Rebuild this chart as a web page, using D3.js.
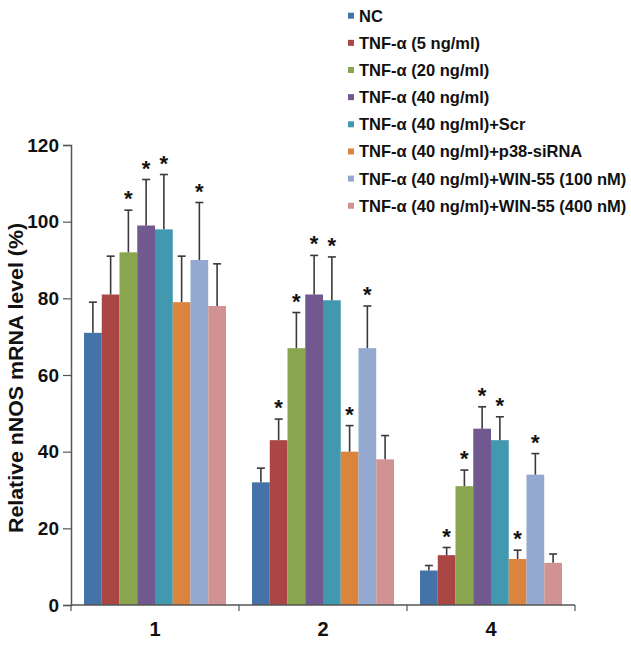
<!DOCTYPE html>
<html>
<head>
<meta charset="utf-8">
<script src="https://cdn.jsdelivr.net/npm/d3@7"></script>
<style>
  body { margin: 0; background: #fff; }
  text { font-family: "Liberation Sans", Arial, sans-serif; font-weight: bold; }
</style>
</head>
<body>
<div id="chart"></div>
<script>
// categories (time points) and treatment series
var timePoints = ['1', '2', '4'];
var seriesNames = [
  'NC',
  'TNF-α (5 ng/ml)',
  'TNF-α (20 ng/ml)',
  'TNF-α (40 ng/ml)',
  'TNF-α (40 ng/ml)+Scr',
  'TNF-α (40 ng/ml)+p38-siRNA',
  'TNF-α (40 ng/ml)+WIN-55 (100 nM)',
  'TNF-α (40 ng/ml)+WIN-55 (400 nM)'
];
var seriesColors = ['#4572A7', '#AA4643', '#89A54E', '#71588F', '#4198AF', '#DB843D', '#93A9CF', '#D19392'];

// mean values, one array per time point (in series order)
var means1 = [71, 81, 92, 99, 98, 79, 90, 78];
var means2 = [32, 43, 67, 81, 79.5, 40, 67, 38];
var means4 = [9, 13, 31, 46, 43, 12, 34, 11];
// upper end of error bar
var upper1 = [79, 91, 103, 111, 112.3, 91, 105, 89];
var upper2 = [35.7, 48.5, 76.3, 91.2, 90.8, 46.8, 78, 44.2];
var upper4 = [10.3, 15, 35.2, 51.7, 49.1, 14.3, 39.5, 13.3];
// significance stars (1 = star)
var star1 = [0, 0, 1, 1, 1, 0, 1, 0];
var star2 = [0, 1, 1, 1, 1, 1, 1, 0];
var star4 = [0, 1, 1, 1, 1, 1, 1, 0];

var yTicks = [0, 20, 40, 60, 80, 100, 120];

var means = [means1, means2, means4]
  , uppers = [upper1, upper2, upper4]
  , stars = [star1, star2, star4];

var w = 631, h = 645;

var svg = d3.select('#chart').append('svg')
  .attr('width', w)
  .attr('height', h);

var x0 = d3.scaleBand()
  .domain(timePoints)
  .range([71, 575])
  .paddingInner(0.155)
  .paddingOuter(0.0775);

var x1 = d3.scaleBand()
  .domain(d3.range(seriesNames.length))
  .range([0, x0.bandwidth()]);

var y = d3.scaleLinear()
  .domain([0, 120])
  .range([605, 145]);

// build flat data
var data = [];
timePoints.forEach(function (t, gi) {
  seriesNames.forEach(function (s, si) {
    data.push({ t: t, s: si, v: means[gi][si], up: uppers[gi][si], star: stars[gi][si] });
  });
});

// bars
svg.append('g').selectAll('rect')
  .data(data)
  .enter().append('rect')
    .attr('x', function (d) { return x0(d.t) + x1(d.s); })
    .attr('y', function (d) { return y(d.v); })
    .attr('width', x1.bandwidth())
    .attr('height', function (d) { return y(0) - y(d.v); })
    .style('fill', function (d) { return seriesColors[d.s]; });

// error bars
var err = svg.append('g')
  .attr('stroke', '#3a3a3a')
  .attr('stroke-width', 1.6);
var capW = 4;
data.forEach(function (d) {
  var cx = x0(d.t) + x1(d.s) + x1.bandwidth() / 2;
  err.append('line')
    .attr('x1', cx).attr('x2', cx)
    .attr('y1', y(d.v)).attr('y2', y(d.up));
  err.append('line')
    .attr('x1', cx - capW).attr('x2', cx + capW)
    .attr('y1', y(d.up)).attr('y2', y(d.up));
});

// stars
svg.append('g').selectAll('text')
  .data(data.filter(function (d) { return d.star; }))
  .enter().append('text')
    .attr('x', function (d) { return x0(d.t) + x1(d.s) + x1.bandwidth() / 2; })
    .attr('y', function (d) { return y(d.up) - 4; })
    .attr('text-anchor', 'middle')
    .style('font-size', '22px')
    .style('fill', '#111')
    .text('*');

// y axis
var yAxis = svg.append('g')
  .attr('transform', 'translate(71,0)')
  .call(d3.axisLeft(y).tickValues(yTicks).tickSize(8).tickPadding(4));
yAxis.select('.domain').attr('stroke', '#555').attr('stroke-width', 1.5);
yAxis.selectAll('.tick line').attr('stroke', '#555').attr('stroke-width', 1.2);
yAxis.selectAll('.tick text')
  .style('font-size', '19px')
  .style('font-family', '"Liberation Sans", Arial, sans-serif')
  .style('font-weight', 'bold')
  .attr('fill', '#111');

// x axis: ticks at band boundaries
var xAxisG = svg.append('g').attr('transform', 'translate(0,605)');
xAxisG.append('line')
  .attr('x1', 71).attr('x2', 575)
  .attr('stroke', '#555').attr('stroke-width', 1.5);
var bounds = [71].concat(timePoints.map(function (t) { return x0(t) + x0.bandwidth() + x0.step() * x0.paddingInner() / 2; }));
bounds[bounds.length - 1] = 575;
xAxisG.selectAll('line.tk')
  .data(bounds)
  .enter().append('line')
    .attr('class', 'tk')
    .attr('x1', function (d) { return d; }).attr('x2', function (d) { return d; })
    .attr('y1', 0).attr('y2', 6)
    .attr('stroke', '#555').attr('stroke-width', 1.2);
xAxisG.selectAll('text')
  .data(timePoints)
  .enter().append('text')
    .attr('x', function (d) { return x0(d) + x0.bandwidth() / 2; })
    .attr('y', 31)
    .attr('text-anchor', 'middle')
    .style('font-size', '20px')
    .style('fill', '#111')
    .text(function (d) { return d; });

// y title
svg.append('text')
  .attr('transform', 'translate(23,378) rotate(-90)')
  .attr('text-anchor', 'middle')
  .attr('textLength', 310)
  .attr('lengthAdjust', 'spacingAndGlyphs')
  .style('font-size', '20px')
  .style('fill', '#111')
  .text('Relative nNOS mRNA level (%)');

// legend
var legend = svg.append('g').attr('transform', 'translate(348,0)');
var rows = legend.selectAll('g')
  .data(seriesNames)
  .enter().append('g')
    .attr('transform', function (d, i) { return 'translate(0,' + (15.7 + i * 27.15) + ')'; });
rows.append('rect')
  .attr('x', 0).attr('y', -3)
  .attr('width', 6).attr('height', 6)
  .style('fill', function (d, i) { return seriesColors[i]; });
rows.append('text')
  .attr('x', 11)
  .attr('dy', '0.36em')
  .style('font-size', '16.5px')
  .style('fill', '#111')
  .text(function (d) { return d; });
</script>
</body>
</html>
